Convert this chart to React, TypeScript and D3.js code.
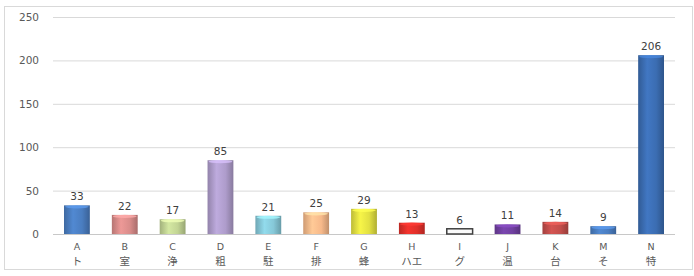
import React from 'react'
import * as d3 from 'd3'

// categories (letter + kana/kanji on second line)
const letters = ['A', 'B', 'C', 'D', 'E', 'F', 'G', 'H', 'I', 'J', 'K', 'M', 'N']
const subLabels = ['ト', '室', '浄', '粗', '駐', '排', '蜂', 'ハエ', 'グ', '温', '台', 'そ', '特']
const counts = [33, 22, 17, 85, 21, 25, 29, 13, 6, 11, 14, 9, 206]
const yTicks = [0, 50, 100, 150, 200, 250]
const barColors = ['#4a7dc0', '#d98c8a', '#c2d494', '#ae9ccb', '#86c8d8', '#f7b98a', '#e2e042', '#e0302a', '#ffffff', '#7040a0', '#c24e4b', '#4a7dc0', '#3b6db2']

const W = 694, H = 276
const margin = { top: 17, right: 19, bottom: 42, left: 53 }

export default function App() {
  const x = d3.scaleBand<string>()
    .domain(letters)
    .range([margin.left, W - margin.right])
    .paddingInner(0.46)
    .paddingOuter(0.23)
  const y = d3.scaleLinear().domain([0, 250]).range([H - margin.bottom, margin.top])

  const font = '"DejaVu Sans", Verdana, sans-serif'

  return (
    <svg width={W} height={H} style={{ position: 'absolute', left: 0, top: 0 }}>
      <defs>
        {barColors.map((c, i) => {
          const base = d3.color(c)!
          return (
            <linearGradient key={i} id={'g' + i} x1="0" x2="1" y1="0" y2="0">
              <stop offset="0" stopColor={base.darker(0.5).toString()} />
              <stop offset="0.35" stopColor={base.brighter(0.25).toString()} />
              <stop offset="0.7" stopColor={c} />
              <stop offset="1" stopColor={base.darker(0.7).toString()} />
            </linearGradient>
          )
        })}
      </defs>
      <rect x={4.5} y={6.5} width={688} height={263} fill="#fff" stroke="#d9d9d9" />

      {yTicks.map(t => (
        <g key={t}>
          <line x1={margin.left} x2={W - margin.right} y1={y(t) + 0.5} y2={y(t) + 0.5}
            stroke={t === 0 ? '#c8c8c8' : '#d9d9d9'} />
          <text x={39} y={y(t) + 4} textAnchor="end" fontSize={10.5} fill="#595959"
            fontFamily={font}>{t}</text>
        </g>
      ))}

      {letters.map((l, i) => {
        const bx = x(l)!
        const bw = x.bandwidth()
        const top = y(counts[i])
        const h = y(0) - top
        const white = i === 8
        return (
          <g key={l}>
            <rect x={bx} y={top} width={bw} height={h} fill={white ? '#fafafa' : `url(#g${i})`}
              stroke={white ? '#404040' : 'none'} strokeWidth={white ? 1.5 : 0} />
            {!white && (
              <ellipse cx={bx + bw / 2} cy={top + 1.5} rx={bw / 2 - 1} ry={1.6}
                fill={d3.color(barColors[i])!.brighter(0.6).toString()} opacity={0.8} />
            )}
            <text x={bx + bw / 2} y={top - 5} textAnchor="middle" fontSize={10.5} fill="#404040"
              fontFamily={font}>{counts[i]}</text>
            <text x={bx + bw / 2} y={250} textAnchor="middle" fontSize={9.5} fill="#595959"
              fontFamily={font}>{l}</text>
            <text x={bx + bw / 2} y={265} textAnchor="middle" fontSize={10.5} fill="#595959"
              fontFamily='"Noto Sans CJK JP", sans-serif'>{subLabels[i]}</text>
          </g>
        )
      })}
    </svg>
  )
}
